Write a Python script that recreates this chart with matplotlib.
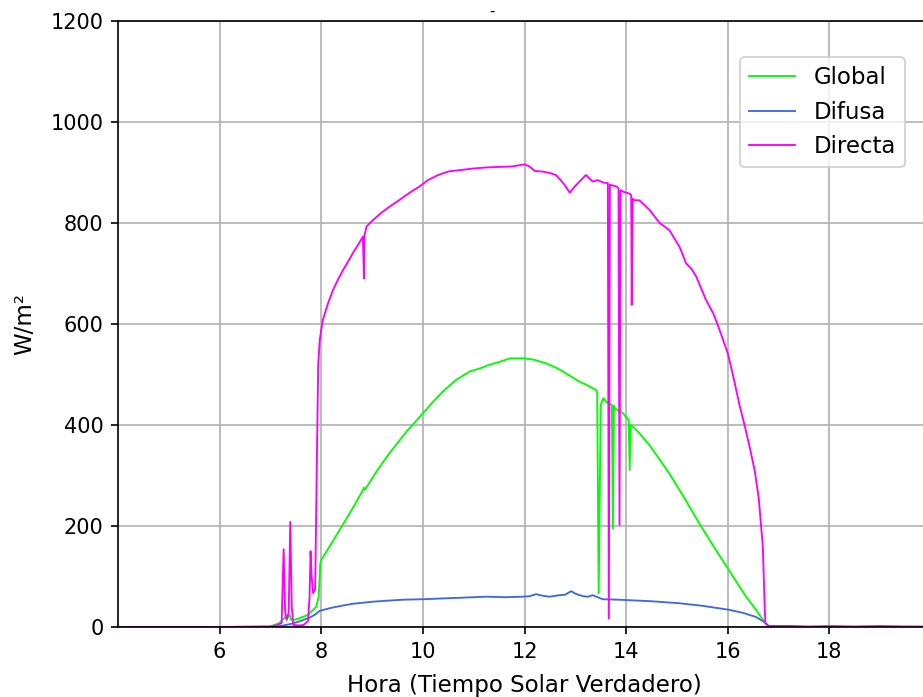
import matplotlib
matplotlib.use("Agg")
import matplotlib.pyplot as plt

# Irradiancia de un dia (W/m2) frente a la hora solar verdadera

# Global
hora_glo = [4.0, 6.0, 7.0, 7.18, 7.28, 7.34, 7.38, 7.41, 7.5, 7.64,
            7.75, 7.85, 7.9, 7.95, 7.98, 8.0, 8.18, 8.36, 8.6, 8.82,
            8.84, 8.86, 9.1, 9.34, 9.67, 10.0, 10.2, 10.39, 10.65, 10.92,
            11.12, 11.3, 11.51, 11.71, 12.0, 12.2, 12.43, 12.65, 12.82, 12.95,
            13.08, 13.25, 13.41, 13.43, 13.46, 13.5, 13.55, 13.64, 13.72, 13.74,
            13.76, 13.78, 13.94, 14.05, 14.07, 14.09, 14.12, 14.25, 14.46, 14.65,
            14.85, 15.15, 15.44, 15.72, 16.0, 16.18, 16.36, 16.55, 16.72, 16.8,
            17.5, 20.0]
glo = [0, 0, 1, 8, 18, 18, 24, 14, 15, 20,
       25, 35, 40, 60, 125, 133, 162, 192, 232, 271,
       276, 272, 310, 344, 386, 423, 446, 466, 489, 506,
       512, 519, 525, 532, 532, 529, 522, 512, 502, 494,
       486, 478, 469, 465, 67, 440, 453, 443, 440, 195,
       438, 433, 423, 410, 311, 400, 398, 385, 360, 333,
       304, 255, 205, 160, 116, 88, 60, 35, 10, 2,
       0, 0]

# Difusa
hora_dif = [4.0, 6.0, 7.0, 7.2, 7.4, 7.6, 7.8, 7.9, 7.97,
            8.2, 8.4, 8.62, 9.0, 9.28, 9.6, 10.0, 10.5, 11.0, 11.25,
            11.6, 11.97, 12.1, 12.23, 12.35, 12.49, 12.69, 12.8, 12.92, 13.0,
            13.15, 13.25, 13.34, 13.54, 13.87, 14.07, 14.5, 15.05, 15.5, 16.03,
            16.3, 16.55, 16.72, 16.8, 17.5, 20.0]
dif = [0, 0, 0, 2, 6, 12, 20, 26, 32,
       38, 42, 46, 50, 52, 54, 55, 57, 59, 60,
       59, 60, 61, 65, 62, 60, 63, 64, 71, 66,
       61, 60, 63, 55, 54, 53, 51, 47, 42, 34,
       28, 20, 10, 2, 0, 0]

# Directa
hora_dir = [4.0, 5.0, 6.0, 7.0, 7.14, 7.22, 7.26, 7.29, 7.32, 7.36,
            7.39, 7.42, 7.45, 7.55, 7.65, 7.74, 7.77, 7.79, 7.81, 7.84,
            7.88, 7.91, 7.94, 7.97, 8.03, 8.13, 8.23, 8.33, 8.43, 8.53,
            8.62, 8.72, 8.82, 8.84, 8.85, 8.89, 9.02, 9.18, 9.34, 9.5,
            9.67, 9.8, 9.93, 10.1, 10.3, 10.5, 10.75, 11.0, 11.25, 11.5,
            11.75, 12.0, 12.1, 12.2, 12.35, 12.5, 12.62, 12.72, 12.8, 12.89,
            12.97, 13.08, 13.21, 13.3, 13.35, 13.44, 13.55, 13.64, 13.66, 13.68,
            13.71, 13.82, 13.85, 13.87, 13.89, 13.94, 14.07, 14.1, 14.11, 14.13,
            14.17, 14.26, 14.46, 14.66, 14.85, 15.05, 15.18, 15.28, 15.38, 15.57,
            15.72, 15.84, 16.0, 16.1, 16.23, 16.33, 16.43, 16.53, 16.61, 16.69,
            16.72, 16.74, 16.8, 17.2, 17.6, 18.0, 18.5, 19.0, 19.5, 20.0]
dire = [0, 0, 0, 1, 4, 8, 154, 30, 14, 30,
        208, 40, 4, 3, 4, 12, 60, 150, 100, 67,
        75, 300, 520, 568, 608, 640, 667, 688, 707, 724,
        740, 756, 773, 690, 775, 793, 806, 820, 832, 843,
        855, 864, 872, 885, 895, 902, 905, 908, 910, 911,
        912, 916, 912, 903, 902, 899, 895, 884, 874, 860,
        870, 882, 895, 886, 882, 885, 880, 879, 17, 876,
        875, 872, 868, 202, 865, 862, 858, 855, 638, 848,
        845, 845, 826, 800, 786, 753, 720, 710, 694, 648,
        620, 588, 542, 500, 440, 400, 357, 310, 255, 159,
        60, 8, 2, 2, 1, 2, 1, 2, 1, 1]

fig = plt.figure(figsize=(923 / 150, 697 / 150), dpi=150)
ax = fig.add_axes([118 / 923, 70 / 697, 813 / 923, 606 / 697])

ax.plot(hora_glo, glo, color="lime", lw=0.9, label="Global")
ax.plot(hora_dif, dif, color="royalblue", lw=0.9, label="Difusa")
ax.plot(hora_dir, dire, color="magenta", lw=0.9, label="Directa")

ax.set_xlim(4, 20)
ax.set_ylim(0, 1200)
ax.set_xticks(range(6, 19, 2))
ax.set_yticks(range(0, 1201, 200))
ax.grid(True)

ax.set_xlabel("Hora (Tiempo Solar Verdadero)", fontsize=11, labelpad=6)
ax.set_ylabel("W/m²", fontsize=11, labelpad=7)
ax.set_title("-", x=0.46, fontsize=7, pad=2.5)

ax.legend(loc="upper right", bbox_to_anchor=(905 / 923, 1 - 57 / 697),
          bbox_transform=fig.transFigure, borderaxespad=0, fontsize=11)

fig.savefig("out.png", dpi=150)
